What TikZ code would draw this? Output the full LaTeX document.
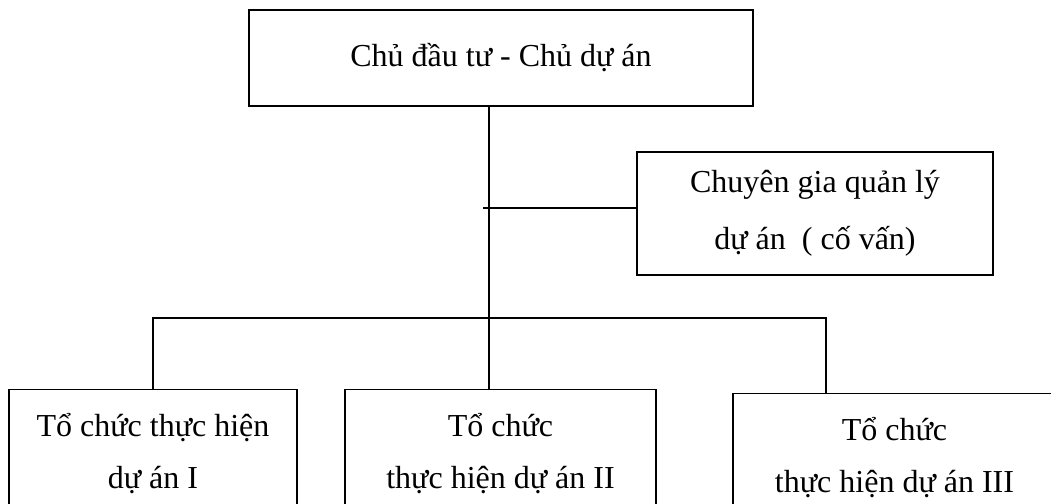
\documentclass[tikz,border=0pt]{standalone}
\usepackage{fontspec}
\setmainfont{Liberation Serif}
\usepackage{tikz}
\usetikzlibrary{arrows,shapes,positioning}

\begin{document}
\begin{tikzpicture}[x=0.5pt,y=-0.5pt,line width=0.7pt]
  \tikzstyle{box}=[rectangle,draw,line width=0.7pt,align=center,inner sep=0pt,
                   font=\fontsize{16}{26}\selectfont]
  \tikzstyle{link}=[draw,line width=0.7pt]

  \useasboundingbox (0,0) rectangle (1051,504);

  \node [box,minimum width=252pt,minimum height=48pt] (cdt) at (501,58)
        {Chủ đầu tư - Chủ dự án};
  \node [box,minimum width=178pt,minimum height=61.5pt,
         font=\fontsize{16}{28.5}\selectfont] (cg) at (815,213.5)
        {Chuyên gia quản lý\\dự án\ \ ( cố vấn)};
  \node [box,anchor=north,minimum width=144pt,minimum height=64pt] (t1) at (153,389)
        {Tổ chức thực hiện\\dự án I};
  \node [box,anchor=north,minimum width=155.5pt,minimum height=64pt] (t2) at (500.5,389)
        {Tổ chức\\thực hiện dự án II};
  \node [box,anchor=north,minimum width=161.5pt,minimum height=64pt] (t3) at (894.5,393)
        {Tổ chức\\thực hiện dự án III};

  \coordinate (bus) at (489,318);
  \coordinate (tick) at (483,208);
  \coordinate (bl) at (153,318);
  \coordinate (br) at (826,318);

  \draw [link] (cdt.south -| bus) -- (bus) -- (t2.north -| bus);
  \draw [link] (tick) -- (cg.west |- tick);
  \draw [link] (t1.north) -- (bl) -- (br) -- (t3.north -| br);
\end{tikzpicture}
\end{document}
